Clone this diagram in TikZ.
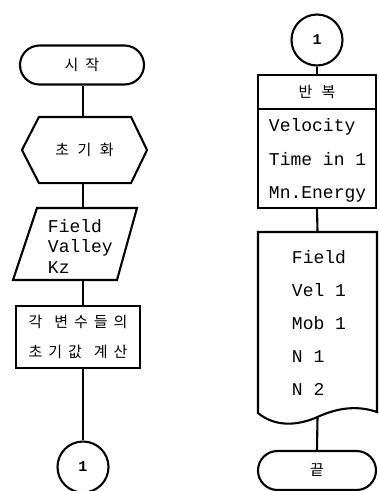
\documentclass[tikz,border=0pt]{standalone}
\usepackage{fontspec}
\newfontfamily\krf{Noto Sans CJK KR}
\newfontfamily\monof{Liberation Mono}
\newcommand\kgap{\hspace{6pt}}
\begin{document}
\begin{tikzpicture}[x=1pt,y=-1pt,line width=2.1pt,
  every node/.style={inner sep=0pt},
  term/.style={draw,rounded corners=19.5pt,minimum width=124pt,minimum height=39pt},
  conn/.style={draw,circle,minimum size=51pt,font=\monof\bfseries\fontsize{15}{16}\selectfont},
  kr/.style={font=\krf\fontsize{15}{17}\selectfont},
  tt/.style={align=left,font=\monof\fontsize{18}{20.5}\selectfont},
  ghost/.style={draw=none}]
\useasboundingbox (0,0) rectangle (379,491);
\clip (0,0) rectangle (379,491);

% left column
\node[term,kr] (start) at (82,65) {시\hspace{7pt}작};
\node[kr,ghost,minimum width=123pt,minimum height=64pt] (init) at (84.5,150) {초\hspace{8.5pt}기\hspace{8.5pt}화};
\draw (init.west) -- ([xshift=17pt]init.north west) -- ([xshift=-16pt]init.north east)
  -- (init.east) -- ([xshift=-16pt]init.south east) -- ([xshift=17pt]init.south west) -- cycle;
\node[ghost,minimum width=100pt,minimum height=72pt] (input) at (75,244) {};
\draw (37,208) -- (137,208) -- (117,280) -- (13,280) -- cycle;
\node[tt] (inputtxt) at (80.4,246) {Field\\Valley\\Kz};
\node[draw,align=center,minimum width=124pt,minimum height=62pt,
  font=\krf\fontsize{15}{30}\selectfont] (calc) at (78,337)
  {각\kgap\kgap 변\kgap 수\kgap 들\kgap 의\\초\kgap 기\kgap 값\kgap\kgap 계\kgap 산};
\node[conn] (c1) at (83,467) {1};

\draw (start.south -| c1) -- (init.north -| c1);
\draw (init.south -| c1) -- (input.north -| c1);
\draw (input.south -| c1) -- (calc.north -| c1);
\draw (calc.south -| c1) -- (c1.north);

% right column
\node[conn] (c2) at (317,40) {1};
\node[draw,kr,minimum width=118pt,minimum height=34pt] (hdr) at (317,92) {반\hspace{9pt}복};
\node[draw,minimum width=118pt,minimum height=99pt] (body) at (317,158.5) {};
\node[tt,font=\monof\fontsize{18}{33.5}\selectfont] (bodytxt) at (317.6,160.5) {Velocity\\Time in 1\\Mn.Energy};
\node[ghost,minimum width=119pt,minimum height=185pt] (doc) at (317.5,324.5) {};
\draw (258,232) -- (377,232) -- (377,412) .. controls (357,405) and (337,408) .. (317.5,417)
  .. controls (297,426) and (275,427) .. (258,413) -- cycle;
\node[tt,font=\monof\fontsize{18}{33}\selectfont] (doctxt) at (319,323) {Field\\Vel 1\\Mob 1\\N 1\\N 2};
\node[term,kr,minimum width=118pt] (end) at (317,470.5) {끝};

\draw (c2.south) -- (hdr.north);
\draw (body.south) -- (doc.north);
\draw (doc.south) -- (end.north);
\end{tikzpicture}
\end{document}
